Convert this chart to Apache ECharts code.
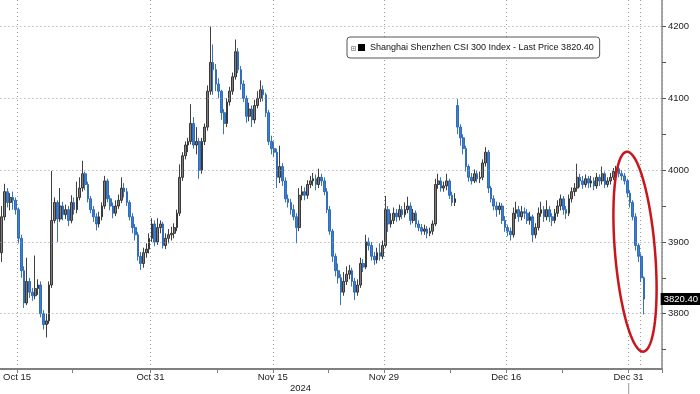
<!DOCTYPE html>
<html><head><meta charset="utf-8">
<script src="https://cdn.jsdelivr.net/npm/echarts@6/dist/echarts.min.js"></script>
<style>html,body{margin:0;padding:0;background:#fff}#c{width:700px;height:394px}</style>
</head><body><div id="c"></div>
<script>
const seriesName = 'Shanghai Shenzhen CSI 300 Index - Last Price 3820.40';
const lastPrice = 3820.40;
const tradingDays = ['Oct 14','Oct 15','Oct 16','Oct 17','Oct 18','Oct 21','Oct 22','Oct 23','Oct 24','Oct 25','Oct 28','Oct 29','Oct 30','Oct 31',
 'Nov 1','Nov 4','Nov 5','Nov 6','Nov 7','Nov 8','Nov 11','Nov 12','Nov 13','Nov 14','Nov 15','Nov 18','Nov 19','Nov 20','Nov 21','Nov 22','Nov 25','Nov 26','Nov 27','Nov 28','Nov 29',
 'Dec 2','Dec 3','Dec 4','Dec 5','Dec 6','Dec 9','Dec 10','Dec 11','Dec 12','Dec 13','Dec 16','Dec 17','Dec 18','Dec 19','Dec 20','Dec 23','Dec 24','Dec 25','Dec 26','Dec 27','Dec 30','Dec 31',
 'Jan 2'];
const barsPerDay = 4;
const emptySlots = 6;
// hourly bars: [open, close, low, high]
const ohlc = [
 [3885,3935,3872,3950],[3935,3970,3930,3981],[3970,3955,3948,3975],[3955,3962,3944,3968],
 [3962,3958,3945,3970],[3958,3945,3938,3962],[3945,3905,3898,3948],[3905,3860,3850,3910],
 [3860,3815,3808,3866],[3815,3845,3812,3878],[3845,3830,3822,3850],[3830,3825,3818,3836],
 [3825,3835,3820,3881],[3835,3840,3826,3848],[3840,3800,3795,3845],[3800,3785,3778,3805],
 [3785,3790,3767,3800],[3790,3840,3786,3845],[3840,3930,3836,3999],[3930,3955,3926,3962],
 [3955,3932,3900,3958],[3932,3950,3928,3975],[3950,3938,3930,3956],[3938,3945,3932,3952],
 [3945,3930,3922,3950],[3930,3955,3926,3965],[3955,3945,3938,3962],[3945,3962,3940,3984],
 [3962,3975,3958,3990],[3975,3995,3970,4013],[3995,3980,3972,3998],[3980,3960,3955,3984],
 [3960,3945,3940,3964],[3945,3935,3928,3950],[3935,3925,3916,3940],[3925,3935,3920,3942],
 [3935,3950,3930,3955],[3950,3985,3946,3992],[3985,3960,3955,3988],[3960,3950,3944,3965],
 [3950,3940,3933,3955],[3940,3950,3936,3958],[3950,3958,3946,3966],[3958,3975,3954,3990],
 [3975,3970,3962,3982],[3970,3955,3950,3975],[3955,3935,3930,3958],[3935,3920,3912,3940],
 [3920,3910,3902,3925],[3910,3880,3874,3914],[3880,3870,3861,3886],[3870,3885,3864,3892],
 [3885,3890,3878,3898],[3890,3905,3884,3912],[3905,3925,3900,3933],[3925,3900,3894,3930],
 [3900,3920,3896,3933],[3920,3925,3912,3930],[3925,3895,3891,3928],[3895,3905,3890,3912],
 [3905,3910,3898,3918],[3910,3912,3902,3921],[3912,3920,3905,3926],[3920,3940,3915,3945],
 [3940,3990,3936,4008],[3990,4020,3985,4025],[4020,4035,4015,4040],[4035,4040,4025,4045],
 [4040,4065,4036,4092],[4065,4035,4030,4074],[4035,4040,4022,4060],[4040,4000,3988,4045],
 [4000,4040,3995,4045],[4040,4060,4035,4065],[4060,4110,4055,4118],[4110,4150,4105,4200],
 [4150,4140,4105,4175],[4140,4120,4110,4148],[4120,4110,4100,4128],[4110,4080,4070,4112],
 [4080,4065,4050,4085],[4065,4095,4060,4100],[4095,4110,4090,4116],[4110,4130,4105,4136],
 [4130,4165,4126,4182],[4165,4140,4135,4170],[4140,4120,4112,4145],[4120,4100,4095,4125],
 [4100,4075,4066,4104],[4075,4085,4068,4094],[4085,4070,4060,4090],[4070,4090,4065,4098],
 [4090,4100,4086,4110],[4100,4112,4095,4125],[4112,4105,4096,4118],[4105,4080,4074,4108],
 [4080,4040,4035,4084],[4040,4030,4022,4048],[4030,4025,4018,4040],[4025,3990,3975,4030],
 [3990,4005,3982,4034],[4005,3985,3978,4010],[3985,3960,3955,3990],[3960,3955,3948,3966],
 [3955,3945,3938,3960],[3945,3935,3930,3952],[3935,3920,3898,3940],[3920,3965,3915,3975],
 [3965,3970,3958,3978],[3970,3965,3958,3976],[3965,3980,3960,3986],[3980,3985,3975,3992],
 [3985,3988,3978,3996],[3988,3980,3972,3994],[3980,3990,3975,4002],[3990,3985,3978,3995],
 [3985,3970,3965,3990],[3970,3945,3940,3975],[3945,3915,3910,3950],[3915,3880,3872,3918],
 [3880,3860,3852,3884],[3860,3850,3842,3870],[3850,3830,3812,3855],[3830,3845,3825,3858],
 [3845,3855,3840,3866],[3855,3860,3848,3868],[3860,3845,3838,3864],[3845,3830,3819,3850],
 [3830,3840,3825,3848],[3840,3870,3836,3878],[3870,3865,3858,3876],[3865,3900,3862,3910],
 [3900,3895,3888,3906],[3895,3880,3874,3900],[3880,3875,3868,3886],[3875,3885,3870,3892],
 [3885,3880,3874,3898],[3880,3895,3876,3902],[3895,3945,3892,3964],[3945,3925,3914,3950],
 [3925,3930,3920,3940],[3930,3940,3925,3948],[3940,3935,3928,3946],[3935,3945,3930,3952],
 [3945,3938,3932,3950],[3938,3945,3934,3955],[3945,3950,3940,3963],[3950,3930,3924,3955],
 [3930,3940,3926,3946],[3940,3925,3920,3944],[3925,3920,3915,3930],[3920,3915,3910,3925],
 [3915,3918,3910,3924],[3918,3912,3905,3922],[3912,3915,3908,3920],[3915,3925,3910,3930],
 [3925,3980,3922,3988],[3980,3985,3974,3995],[3985,3975,3970,3990],[3975,3978,3970,3984],
 [3978,3985,3972,3995],[3985,3965,3960,3988],[3965,3955,3950,3970],[3955,3960,3950,3968],
 [4090,4060,4050,4099],[4060,4045,4034,4064],[4045,4030,4022,4050],[4030,4005,3998,4034],
 [4005,3990,3984,4008],[3990,3985,3980,3996],[3985,3995,3982,4001],[3995,3988,3983,3999],
 [3988,3990,3982,3998],[3990,4010,3986,4015],[4010,4025,4005,4032],[4025,3975,3968,4028],
 [3975,3960,3955,3978],[3960,3950,3944,3965],[3950,3945,3935,3956],[3945,3950,3938,3955],
 [3950,3930,3925,3954],[3930,3920,3914,3936],[3920,3915,3908,3924],[3915,3910,3902,3920],
 [3910,3940,3906,3948],[3940,3945,3932,3956],[3945,3935,3928,3950],[3935,3942,3930,3950],
 [3942,3940,3932,3948],[3940,3930,3925,3946],[3930,3935,3924,3942],[3935,3910,3900,3938],
 [3910,3920,3905,3926],[3920,3940,3916,3948],[3940,3945,3935,3956],[3945,3935,3928,3950],
 [3935,3945,3930,3958],[3945,3935,3928,3950],[3935,3930,3922,3940],[3930,3940,3926,3946],
 [3940,3950,3935,3958],[3950,3960,3944,3966],[3960,3945,3938,3964],[3945,3940,3932,3950],
 [3940,3960,3936,3966],[3960,3970,3955,3976],[3970,3975,3964,3982],[3975,3990,3970,4009],
 [3990,3985,3976,3995],[3985,3980,3974,3992],[3980,3988,3976,3994],[3988,3982,3975,3992],
 [3982,3985,3976,3992],[3985,3978,3972,3990],[3978,3990,3974,3996],[3990,3985,3978,3994],
 [3985,3995,3980,4005],[3995,3980,3975,3998],[3980,3985,3976,3990],[3985,3990,3980,3996],
 [3990,3998,3986,4003],[3998,4002,3992,4006],[4002,3995,3990,4005],[3995,3992,3986,4000],
 [3992,3985,3980,3996],[3985,3968,3962,3988],[3968,3955,3948,3972],[3955,3935,3930,3958],
 [3935,3895,3888,3940],[3895,3880,3872,3898],[3880,3850,3844,3884],[3850,3820.4,3799,3852]
];
const yLabelValues = [3800, 3900, 4000, 4100, 4200];
const yTickValues = [3750, 3800, 3850, 3900, 3950, 4000, 4050, 4100, 4150, 4200];
const yMin = 3723, yMax = 4237;
const xLabelDays = ['Oct 15', 'Oct 31', 'Nov 15', 'Nov 29', 'Dec 16', 'Dec 31'];
const xMinorTickDays = ['Oct 22', 'Nov 8', 'Nov 22', 'Dec 9', 'Dec 23'];
const xExtraGridDays = ['Jan 2'];
const yearLabel = '2024';
const yearLabelDay = 'Nov 20';

const FONT = "'Liberation Sans', Arial, sans-serif";

// categories: one per hourly bar, plus empty slots at the right end
const categories = [];
tradingDays.forEach(d => { for (let s = 0; s < barsPerDay; s++) categories.push(d + ' #' + s); });
for (let k = 0; k < emptySlots; k++) categories.push('blank ' + k);

const midIdx = d => tradingDays.indexOf(d) * barsPerDay + barsPerDay / 2;
const labelIdx = {};
xLabelDays.forEach(d => { labelIdx[midIdx(d)] = d; });
const yearIdx = tradingDays.indexOf(yearLabelDay) * barsPerDay;
labelIdx[yearIdx] = '\n' + yearLabel;
const gridIdx = new Set(xLabelDays.concat(xExtraGridDays).map(midIdx));
const tickIdx = new Set(xLabelDays.concat(xMinorTickDays).map(midIdx));

// annotation ellipse outline (decoration, not data)
const ell = { cx: 635, cy: 251.7, rx: 20, ry: 100.3, tilt: -0.083 };
const ellPts = [];
for (let k = 0; k < 96; k++) {
  const t = k / 96 * Math.PI * 2;
  const px = ell.rx * Math.cos(t), py = ell.ry * Math.sin(t);
  ellPts.push([ell.cx + px * Math.cos(ell.tilt) - py * Math.sin(ell.tilt),
               ell.cy + px * Math.sin(ell.tilt) + py * Math.cos(ell.tilt)]);
}

const chart = echarts.init(document.getElementById('c'), null, { renderer: 'canvas' });
chart.setOption({
  animation: false,
  backgroundColor: '#fff',
  textStyle: { fontFamily: FONT },
  grid: { left: -1, right: 38, top: 0, bottom: 22.3 },
  axisPointer: { triggerOn: 'none' },
  legend: {
    left: 347, top: 37,
    padding: [5, 6, 5, 11],
    itemWidth: 7, itemHeight: 7,
    borderColor: '#555', borderWidth: 1, borderRadius: 3,
    backgroundColor: '#fff',
    selectedMode: false,
    textStyle: { fontSize: 9, color: '#111', fontFamily: FONT, lineHeight: 11 },
    data: [{ name: seriesName, icon: 'rect', itemStyle: { color: '#000', borderWidth: 0 } }]
  },
  xAxis: {
    type: 'category',
    data: categories,
    boundaryGap: true,
    axisLine: { show: true, lineStyle: { color: '#808080', width: 2 } },
    axisTick: { show: true, length: 4, interval: (i) => tickIdx.has(i), lineStyle: { color: '#808080' } },
    splitLine: { show: true, interval: (i) => gridIdx.has(i), lineStyle: { color: '#9a9a9a', type: [1, 3], width: 1 } },
    axisLabel: {
      show: true, interval: (i) => labelIdx[i] !== undefined,
      formatter: (v, i) => labelIdx[i] || '',
      fontSize: 9.5, color: '#222', fontFamily: FONT, margin: 3, lineHeight: 11, padding: [0, 3, 0, 0]
    },
    axisPointer: { show: false }
  },
  yAxis: {
    type: 'value', position: 'right', min: yMin, max: yMax, scale: true,
    axisLine: { show: true, lineStyle: { color: '#8a8a8a', width: 1.5 } },
    axisTick: { show: true, length: 4, customValues: yTickValues, lineStyle: { color: '#555' } },
    splitLine: { show: false },
    axisLabel: { show: true, customValues: yLabelValues, formatter: v => String(v), fontSize: 9.5, color: '#222', fontFamily: FONT, margin: 6 },
    axisPointer: {
      show: true, type: 'line', value: lastPrice, status: 'show', snap: false, triggerTooltip: false,
      lineStyle: { opacity: 0 },
      label: { show: true, formatter: p => Number(p.value).toFixed(2), backgroundColor: '#000', color: '#fff',
               fontSize: 9.5, fontFamily: FONT, padding: [1, 2, 1, 3], margin: 3, borderRadius: 0 }
    }
  },
  series: [{
    name: seriesName,
    type: 'candlestick',
    data: ohlc,
    barWidth: 2.2,
    itemStyle: {
      color: '#7d7d7d', borderColor: '#2a2a2a',
      color0: '#3a7fd2', borderColor0: '#2563b4',
      borderWidth: 0.9
    },
    markLine: {
      silent: true, symbol: ['none', 'none'], animation: false,
      data: yLabelValues.map(v => ({ yAxis: v, lineStyle: { color: '#9a9a9a', type: [1, 3], width: 1 }, label: { show: false } }))
    }
  }],
  graphic: [
    { type: 'polygon', shape: { points: ellPts }, style: { fill: 'none', stroke: '#c8161d', lineWidth: 2.5 }, z: 100 },
    { type: 'rect', shape: { x: 351.5, y: 46.5, width: 4, height: 4 }, style: { fill: '#fff', stroke: '#888', lineWidth: 0.8 }, z: 100 },
    { type: 'line', shape: { x1: 352.5, y1: 48.5, x2: 354.5, y2: 48.5 }, style: { stroke: '#888', lineWidth: 0.8 }, z: 100 },
    { type: 'line', shape: { x1: 353.5, y1: 47.5, x2: 353.5, y2: 49.5 }, style: { stroke: '#888', lineWidth: 0.8 }, z: 100 },
    { type: 'line', shape: { x1: 628.7, y1: 383, x2: 628.7, y2: 394 }, style: { stroke: '#999', lineWidth: 1 }, z: 100 }
  ]
});
</script>
</body></html>
